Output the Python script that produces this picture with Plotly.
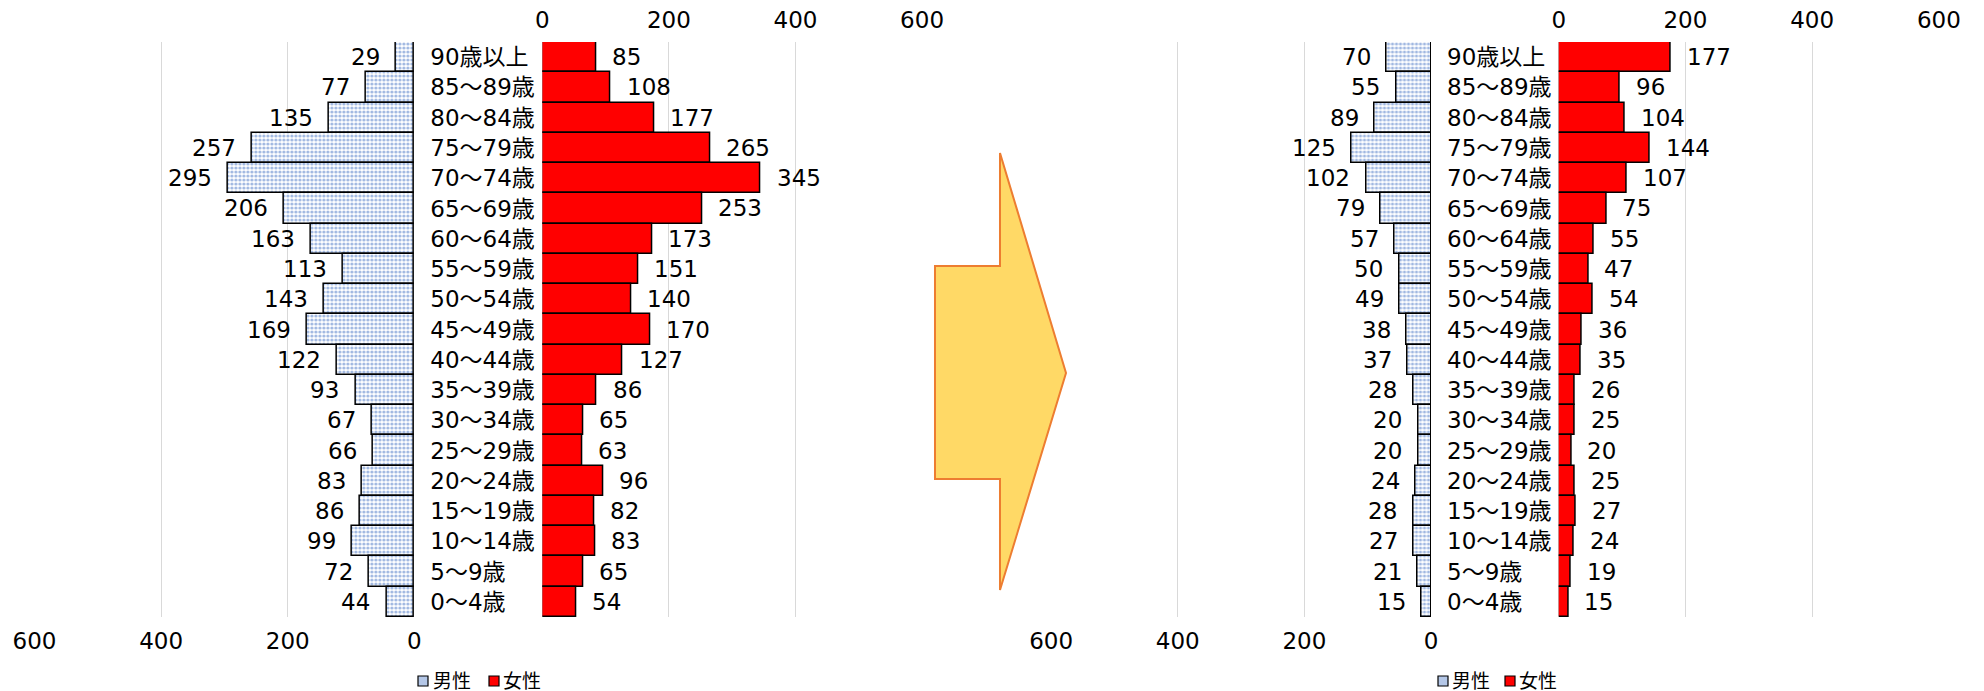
import plotly.graph_objects as go

W, H = 1984, 691

categories = ["90歳以上", "85～89歳", "80～84歳", "75～79歳", "70～74歳", "65～69歳",
              "60～64歳", "55～59歳", "50～54歳", "45～49歳", "40～44歳", "35～39歳",
              "30～34歳", "25～29歳", "20～24歳", "15～19歳", "10～14歳", "5～9歳", "0～4歳"]

left_male = [29, 77, 135, 257, 295, 206, 163, 113, 143, 169, 122, 93, 67, 66, 83, 86, 99, 72, 44]
left_female = [85, 108, 177, 265, 345, 253, 173, 151, 140, 170, 127, 86, 65, 63, 96, 82, 83, 65, 54]
right_male = [70, 55, 89, 125, 102, 79, 57, 50, 49, 38, 37, 28, 20, 20, 24, 28, 27, 21, 15]
right_female = [177, 96, 104, 144, 107, 75, 55, 47, 54, 36, 35, 26, 25, 20, 25, 27, 24, 19, 15]

tick_vals = [0, 200, 400, 600]
series_names = ["男性", "女性"]

FONT = "DejaVu Sans, Noto Sans CJK JP, sans-serif"
FS = 23
TXT = "#000000"
GRID = "#d9d9d9"
RED = "#ff0000"
BLUE_DOT = "#4472c4"


def px(x):
    return x / W


def py(y):
    return 1 - y / H


y_dom = [py(617), py(42)]

male_marker = dict(color="white", line=dict(color="black", width=1.5),
                   pattern=dict(shape=".", fgcolor=BLUE_DOT, bgcolor="white", size=4, solidity=0.5))
female_marker = dict(color=RED, line=dict(color="black", width=1.5))

fig = go.Figure()
fig.add_trace(go.Bar(orientation="h", x=left_male, y=categories, xaxis="x", yaxis="y",
                     name=series_names[0], marker=male_marker, showlegend=False, hoverinfo="x+y"))
fig.add_trace(go.Bar(orientation="h", x=left_female, y=categories, xaxis="x2", yaxis="y",
                     name=series_names[1], marker=female_marker, showlegend=False, hoverinfo="x+y"))
fig.add_trace(go.Bar(orientation="h", x=right_male, y=categories, xaxis="x3", yaxis="y2",
                     name=series_names[0], marker=male_marker, showlegend=False, hoverinfo="x+y"))
fig.add_trace(go.Bar(orientation="h", x=right_female, y=categories, xaxis="x4", yaxis="y2",
                     name=series_names[1], marker=female_marker, showlegend=False, hoverinfo="x+y"))

annotations = []
for vals, xr, yr, side in [(left_male, "x", "y", "left"), (left_female, "x2", "y", "right"),
                           (right_male, "x3", "y2", "left"), (right_female, "x4", "y2", "right")]:
    for i, v in enumerate(vals):
        annotations.append(dict(
            x=v, y=i, xref=xr, yref=yr, text=str(v), showarrow=False,
            xanchor="right" if side == "left" else "left",
            xshift=-14 if side == "left" else 14,
            font=dict(family=FONT, size=FS, color=TXT)))

# custom compact legends (one under each pyramid)
shapes = []
legend_items = [
    # (symbol left px, text left px, name index, fill, line)
    (418, 431, 0, "#b4c7e7"),
    (489, 501, 1, RED),
    (1438, 1450, 0, "#b4c7e7"),
    (1505, 1517, 1, RED),
]
LEG_Y = 681
for sx, tx, k, fill in legend_items:
    shapes.append(dict(type="rect", xref="paper", yref="paper",
                       x0=px(sx), x1=px(sx + 10), y0=py(LEG_Y + 5), y1=py(LEG_Y - 5),
                       fillcolor=fill, line=dict(color="black", width=1.2)))
    annotations.append(dict(x=px(tx), y=py(LEG_Y), xref="paper", yref="paper",
                            text=series_names[k], showarrow=False, xanchor="left", yanchor="middle",
                            font=dict(family=FONT, size=19, color=TXT)))

# decorative arrow between the two pyramids
arrow_pts = [(935, 266), (1000, 266), (1000, 153), (1066, 373), (1000, 590), (1000, 479), (935, 479)]
path = "M " + " L ".join(f"{px(x):.5f},{py(y):.5f}" for x, y in arrow_pts) + " Z"
shapes.append(dict(type="path", path=path, xref="paper", yref="paper",
                   fillcolor="#ffd966", line=dict(color="#ed7d31", width=2), layer="below"))

xcommon = dict(showgrid=True, gridcolor=GRID, gridwidth=1, zeroline=False, showline=False,
               tickmode="array", tickvals=tick_vals, ticks="", automargin=False,
               tickfont=dict(family=FONT, size=FS, color=TXT), fixedrange=True)

ycommon = dict(type="category", categoryorder="array", categoryarray=categories,
               autorange="reversed", showgrid=False, zeroline=False, showline=False,
               side="right", ticks="", ticklabelstandoff=15, automargin=False,
               tickfont=dict(family=FONT, size=FS, color=TXT), domain=y_dom)

fig.update_layout(
    width=W, height=H,
    margin=dict(l=0, r=0, t=0, b=0, autoexpand=False),
    paper_bgcolor="white", plot_bgcolor="rgba(0,0,0,0)",
    bargap=0,
    barmode="overlay",
    showlegend=False,
    font=dict(family=FONT, size=FS, color=TXT),
    xaxis=dict(xcommon, domain=[px(33.9), px(414.3)], range=[601, 0], anchor="y", side="bottom",
               ticklabelstandoff=8),
    xaxis2=dict(xcommon, domain=[px(542.3), px(922.7)], range=[0, 601], anchor="y", side="top",
                ticklabelstandoff=8),
    xaxis3=dict(xcommon, domain=[px(1050.5), px(1431)], range=[601, 0], anchor="y2", side="bottom",
                ticklabelstandoff=8),
    xaxis4=dict(xcommon, domain=[px(1558.7), px(1939.5)], range=[0, 601], anchor="y2", side="top",
                ticklabelstandoff=8),
    yaxis=dict(ycommon, anchor="x"),
    yaxis2=dict(ycommon, anchor="x3"),
    annotations=annotations,
    shapes=shapes,
)

fig.write_html("out.html")
